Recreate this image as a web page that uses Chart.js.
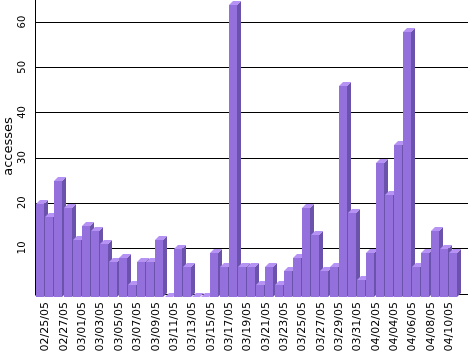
<!DOCTYPE html>
<html>
<head>
<meta charset="utf-8">
<script src="https://cdn.jsdelivr.net/npm/chart.js@4/dist/chart.umd.min.js"></script>
<style>
  html, body { margin: 0; padding: 0; background: #fff; }
  #wrap { width: 468px; height: 351px; }
</style>
</head>
<body>
<div id="wrap"><canvas id="c" width="468" height="351"></canvas></div>
<script>
const dates = [
  '02/25/05','02/26/05','02/27/05','02/28/05',
  '03/01/05','03/02/05','03/03/05','03/04/05','03/05/05','03/06/05','03/07/05','03/08/05',
  '03/09/05','03/10/05','03/11/05','03/12/05','03/13/05','03/14/05','03/15/05','03/16/05',
  '03/17/05','03/18/05','03/19/05','03/20/05','03/21/05','03/22/05','03/23/05','03/24/05',
  '03/25/05','03/26/05','03/27/05','03/28/05','03/29/05','03/30/05','03/31/05',
  '04/01/05','04/02/05','04/03/05','04/04/05','04/05/05','04/06/05','04/07/05','04/08/05',
  '04/09/05','04/10/05','04/11/05'
];
const accesses = [
  20,17,25,19,
  12,15,14,11,7,8,2,7,
  7,12,0,10,6,0,0,9,
  6,64,6,6,2,6,2,5,
  8,19,13,5,6,46,18,
  3,9,29,22,33,58,6,9,
  14,10,9
];
const yTicks = [10, 20, 30, 40, 50, 60];

const FRONT = '#9370db';
const SIDE = '#6a52ad';
const TOP = '#b692f5';
const DEPTH = 4;

const bars3d = {
  id: 'bars3d',
  beforeDatasetsDraw(chart) {
    const { ctx, chartArea, scales } = chart;
    const y = scales.y;
    ctx.save();
    ctx.strokeStyle = '#000';
    ctx.lineWidth = 1;
    yTicks.forEach(v => {
      const py = Math.round(y.getPixelForValue(v)) + 0.5;
      ctx.beginPath();
      ctx.moveTo(chartArea.left, py);
      ctx.lineTo(chart.width, py);
      ctx.stroke();
    });
    const pb = Math.round(y.getPixelForValue(0)) + 1.5;
    ctx.beginPath();
    ctx.moveTo(chartArea.left, pb);
    ctx.lineTo(chart.width, pb);
    ctx.stroke();
    const ax = chartArea.left - 0.5;
    ctx.beginPath();
    ctx.moveTo(ax, chartArea.top);
    ctx.lineTo(ax, pb + 1);
    ctx.stroke();
    ctx.restore();
  },
  afterDatasetsDraw(chart) {
    const { ctx } = chart;
    const meta = chart.getDatasetMeta(0);
    ctx.save();
    meta.data.forEach((el, i) => {
      const p = el.getProps(['x', 'y', 'width', 'base'], true);
      const xl = Math.floor(p.x - p.width / 2);
      const xr = xl + Math.round(p.width);
      const bottom = Math.round(p.base) + 4;
      const ft = accesses[i] > 0 ? Math.round(p.y) + 1 : bottom;
      ctx.fillStyle = FRONT;
      ctx.fillRect(xl, ft, xr - xl, bottom - ft);
      ctx.fillStyle = SIDE;
      ctx.beginPath();
      ctx.moveTo(xr, ft);
      ctx.lineTo(xr + DEPTH, ft - DEPTH);
      ctx.lineTo(xr + DEPTH, bottom - DEPTH);
      ctx.lineTo(xr, bottom);
      ctx.closePath();
      ctx.fill();
      ctx.fillStyle = TOP;
      ctx.beginPath();
      ctx.moveTo(xl, ft);
      ctx.lineTo(xl + DEPTH, ft - DEPTH);
      ctx.lineTo(xr + DEPTH, ft - DEPTH);
      ctx.lineTo(xr, ft);
      ctx.closePath();
      ctx.fill();
    });
    ctx.restore();
  }
};

new Chart(document.getElementById('c'), {
  type: 'bar',
  data: {
    labels: dates,
    datasets: [{
      label: 'accesses',
      data: accesses,
      backgroundColor: 'rgba(0,0,0,0)',
      borderWidth: 0,
      barPercentage: 0.87,
      categoryPercentage: 1.0
    }]
  },
  options: {
    responsive: false,
    devicePixelRatio: 1,
    animation: false,
    layout: { padding: { top: 0, left: 0, bottom: 0, right: 10 } },
    plugins: {
      legend: { display: false },
      tooltip: { enabled: false }
    },
    scales: {
      x: {
        grid: { display: false, drawTicks: false },
        border: { display: false },
        ticks: {
          autoSkip: false,
          minRotation: 90,
          maxRotation: 90,
          padding: 9,
          labelOffset: 5,
          color: '#000',
          font: { family: 'DejaVu Sans', size: 11 },
          callback: (val, idx) => (idx % 2 === 0 ? dates[idx] : '')
        },
        afterFit: s => { s.height = 58; s.paddingLeft = 0; s.paddingRight = 0; }
      },
      y: {
        min: 0,
        max: 64.9,
        grid: { display: false, drawTicks: false },
        border: { display: false },
        ticks: {
          stepSize: 10,
          includeBounds: false,
          minRotation: 90,
          maxRotation: 90,
          crossAlign: 'center',
          padding: 7,
          color: '#000',
          font: { family: 'DejaVu Sans', size: 10 },
          callback: v => (yTicks.includes(v) ? String(v) : '')
        },
        title: {
          display: true,
          text: 'accesses',
          color: '#000',
          font: { family: 'DejaVu Sans', size: 13 },
          padding: { top: 1, bottom: 0 }
        },
        afterFit: s => { s.width = 36; s.paddingTop = 0; s.paddingBottom = 0; }
      }
    }
  },
  plugins: [bars3d]
});
</script>
</body>
</html>
